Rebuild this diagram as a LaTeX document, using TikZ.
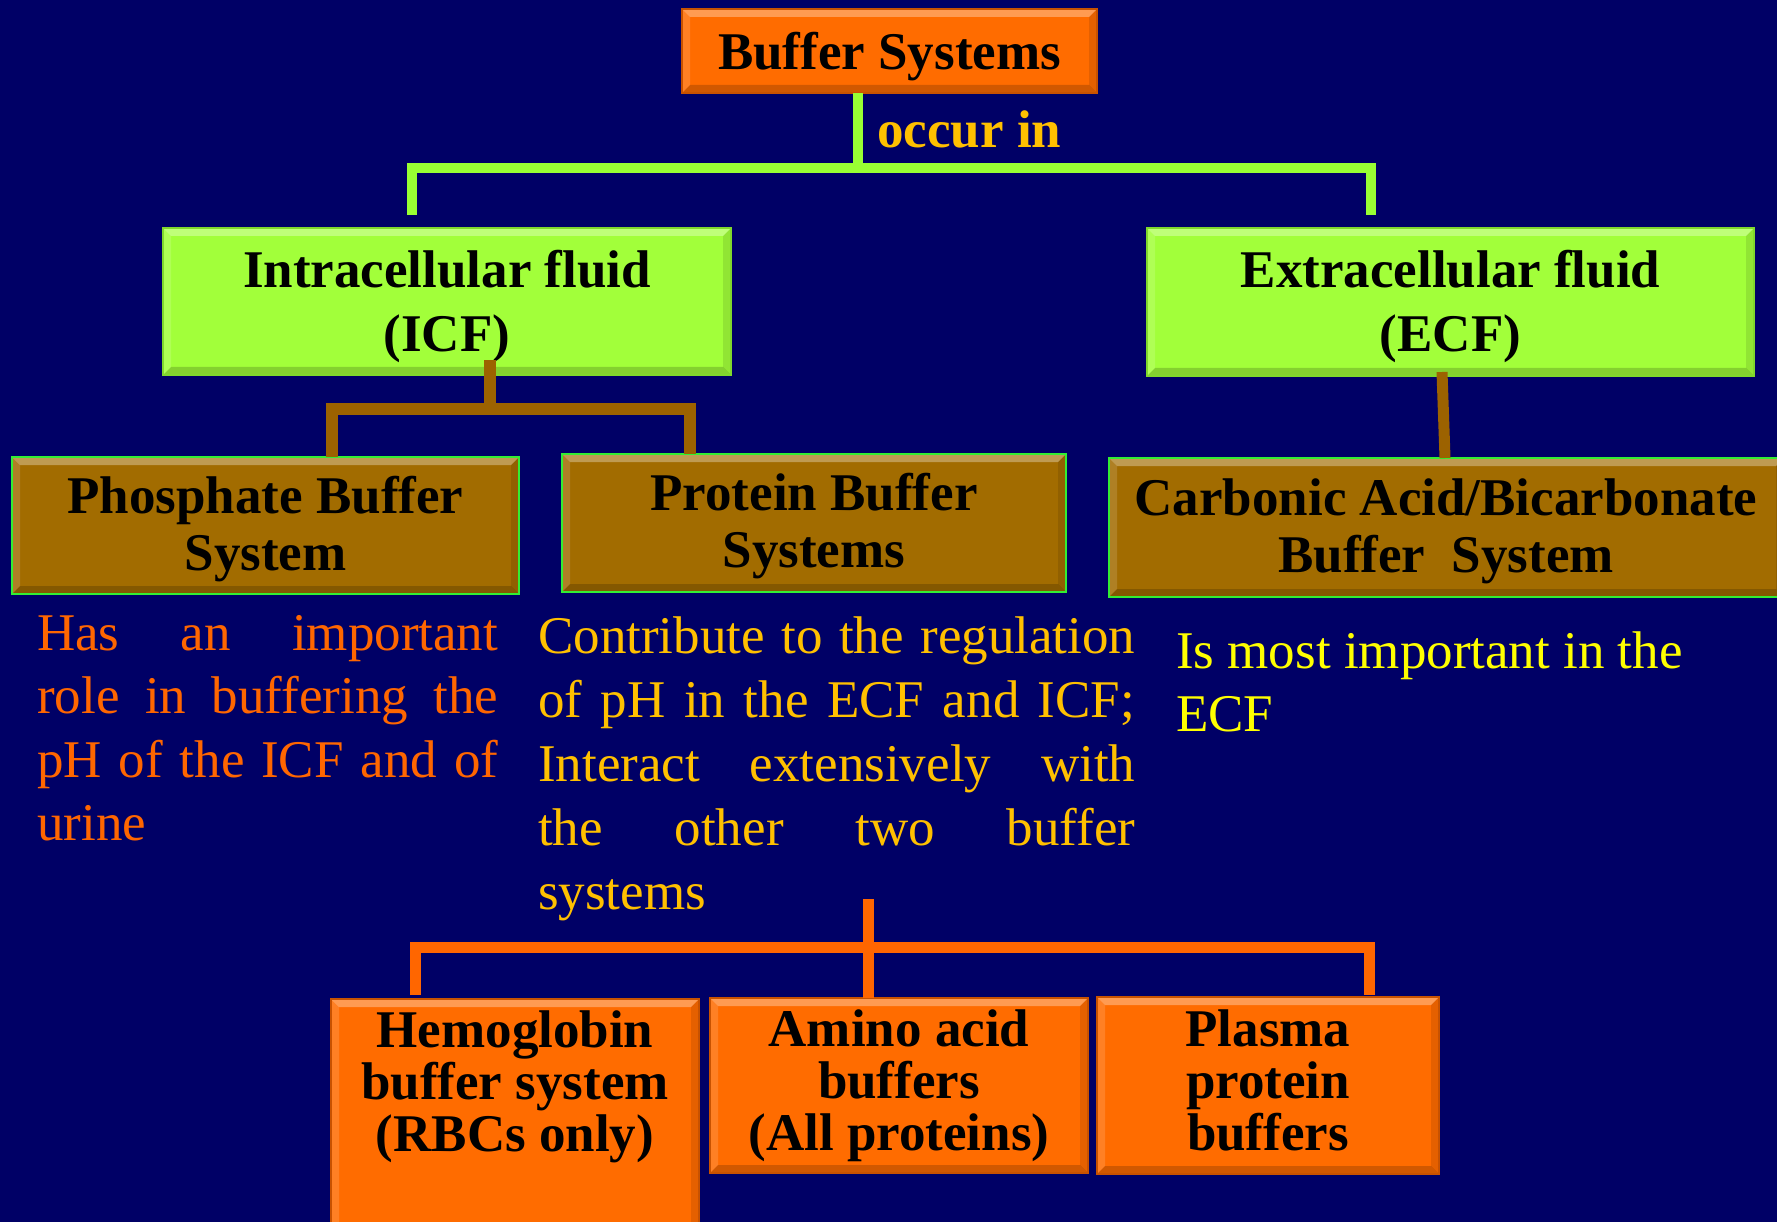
\documentclass[tikz,border=0pt]{standalone}
\usepackage{fontspec}
\setmainfont{Liberation Serif}
\usetikzlibrary{calc}

\definecolor{bgnavy}{HTML}{000066}
\definecolor{boxorange}{HTML}{FF6C00}
\definecolor{boxorangeedge}{HTML}{C85200}
\definecolor{boxgreen}{HTML}{A2FF3A}
\definecolor{boxgreenedge}{HTML}{80D82C}
\definecolor{boxbrown}{HTML}{A26C00}
\definecolor{brownedge}{HTML}{33EE33}
\definecolor{linegreen}{HTML}{99FF33}
\definecolor{linebrown}{HTML}{9C6200}
\definecolor{lineorange}{HTML}{FF6600}
\definecolor{txtorange}{HTML}{FF6600}
\definecolor{txtgold}{HTML}{FFC000}
\definecolor{txtyellow}{HTML}{FFFF00}

% stacked lines, baseline on the first line
\newcommand\boxlines[1]{\begin{tabular}[t]{@{}c@{}}#1\end{tabular}}
\newcommand\leftlines[1]{\begin{tabular}[t]{@{}l@{}}#1\end{tabular}}

\tikzset{
  bevel/.style={path picture={
    \path (path picture bounding box.north west) coordinate (bvNW)
          (path picture bounding box.north east) coordinate (bvNE)
          (path picture bounding box.south west) coordinate (bvSW)
          (path picture bounding box.south east) coordinate (bvSE);
    \fill[white,opacity=.32] (bvNW) -- (bvNE) -- ([shift={(-8pt,-8pt)}]bvNE) -- ([shift={(8pt,-8pt)}]bvNW) -- cycle;
    \fill[white,opacity=.14] (bvNW) -- ([shift={(8pt,-8pt)}]bvNW) -- ([shift={(8pt,8pt)}]bvSW) -- (bvSW) -- cycle;
    \fill[black,opacity=.18] (bvSW) -- ([shift={(8pt,8pt)}]bvSW) -- ([shift={(-8pt,8pt)}]bvSE) -- (bvSE) -- cycle;
    \fill[black,opacity=.10] (bvNE) -- (bvSE) -- ([shift={(-8pt,8pt)}]bvSE) -- ([shift={(-8pt,-8pt)}]bvNE) -- cycle;
  }},
  basebox/.style={rectangle, inner sep=0pt, outer sep=0pt, anchor=north west, bevel},
  obox/.style={basebox, fill=boxorange, draw=boxorangeedge, line width=1.5pt},
  gbox/.style={basebox, fill=boxgreen, draw=boxgreenedge, line width=1.5pt},
  bbox/.style={basebox, fill=boxbrown, draw=brownedge, line width=2.5pt},
  btext/.style={font=\bfseries\fontsize{53}{64}\selectfont, text=black, inner sep=0pt, anchor=base},
  desc/.style={font=\fontsize{53}{64}\selectfont, inner sep=0pt, anchor=base west},
  gline/.style={draw=linegreen, line width=10pt},
  bline/.style={draw=linebrown, line width=12pt},
  oline/.style={draw=lineorange, line width=11pt},
}

\begin{document}
\begin{tikzpicture}[x=1pt,y=-1pt]
\useasboundingbox (0,0) rectangle (1777,1222);
\clip (0,0) rectangle (1777,1222);
\fill[bgnavy] (0,0) rectangle (1777,1222);

% ---- boxes ----
\node[obox, minimum width=415pt, minimum height=84pt]  (top)    at (682,9)    {};
\node[gbox, minimum width=568pt, minimum height=147pt] (icf)    at (163,228)  {};
\node[gbox, minimum width=607pt, minimum height=148pt] (ecf)    at (1147,228) {};
\node[bbox, minimum width=507pt, minimum height=137pt] (phos)   at (12,457)   {};
\node[bbox, minimum width=504pt, minimum height=138pt] (prot)   at (562,454)  {};
\node[bbox, minimum width=675pt, minimum height=139pt] (carb)   at (1109,458) {};
\node[obox, minimum width=368pt, minimum height=260pt] (hemo)   at (331,999)  {};
\node[obox, minimum width=378pt, minimum height=175pt] (amino)  at (710,998)  {};
\node[obox, minimum width=342pt, minimum height=177pt] (plasma) at (1097,997) {};

% ---- box labels ----
\node[btext] (top-t) at (top.center |- 0,70) {Buffer Systems};
\node[btext] (icf-t) at (icf.center |- 0,288) {\boxlines{Intracellular fluid\\(ICF)}};
\node[btext] (ecf-t) at (ecf.center |- 0,288) {\boxlines{Extracellular fluid\\(ECF)}};
\node[btext, font=\bfseries\fontsize{53}{57}\selectfont] (phos-t) at (phos.center |- 0,513) {\boxlines{Phosphate Buffer\\System}};
\node[btext, font=\bfseries\fontsize{53}{57}\selectfont] (prot-t) at (prot.center |- 0,510) {\boxlines{Protein Buffer\\Systems}};
\node[btext, font=\bfseries\fontsize{53}{57}\selectfont] (carb-t) at (1446,515) {\boxlines{Carbonic Acid/Bicarbonate\\Buffer~~System}};
\node[btext, font=\bfseries\fontsize{53}{51}\selectfont] (hemo-t) at (hemo.center |- 0,1047) {\boxlines{Hemoglobin\\buffer system\\(RBCs only)}};
\node[btext, font=\bfseries\fontsize{53}{51}\selectfont] (amino-t) at (amino.center |- 0,1046) {\boxlines{Amino acid\\buffers\\(All proteins)}};
\node[btext, font=\bfseries\fontsize{53}{51}\selectfont] (plasma-t) at (plasma.center |- 0,1046) {\boxlines{Plasma\\protein\\buffers}};

% ---- link label ----
\node[btext, anchor=base west, text=txtgold] (occ) at (877,148) {occur in};

% ---- descriptions ----
\node[desc, text=txtorange, font=\fontsize{53}{63.5}\selectfont] (phos-d) at (37,650) {\leftlines{%
  \makebox[461pt][s]{Has an important}\\
  \makebox[461pt][s]{role in buffering the}\\
  \makebox[461pt][s]{pH of the ICF and of}\\
  urine}};
\node[desc, text=txtgold] (prot-d) at (538,653) {\leftlines{%
  \makebox[597pt][s]{Contribute to the regulation}\\
  \makebox[597pt][s]{of pH in the ECF and ICF;}\\
  \makebox[597pt][s]{Interact extensively with}\\
  \makebox[597pt][s]{the other two buffer}\\
  systems}};
\node[desc, text=txtyellow, font=\fontsize{53}{63}\selectfont] (carb-d) at (1176,668) {\leftlines{%
  Is most important in the\\
  ECF}};

% ---- connectors ----
\coordinate (occJ) at (858,168);
\coordinate (icfDrop) at (412,215);
\coordinate (ecfDrop) at (1371,215);
\draw[gline] (top.south -| occJ) -- (occJ);
\draw[gline] (icfDrop) -- (icfDrop |- occJ) -- (ecfDrop |- occJ) -- (ecfDrop);

\coordinate (icfJ) at (490,409);
\draw[bline] ([yshift=15pt]icf.south -| icfJ) -- (icfJ);
\draw[bline] (phos.north -| 332,0) -- (332,0 |- icfJ) -- (690,0 |- icfJ) -- (prot.north -| 690,0);

\draw[draw=linebrown, line width=11pt] (1442,372) -- (carb.north -| 1445,0);

\coordinate (protJ) at (868,947);
\coordinate (protStem) at (868,899);
\draw[oline] (protStem) -- (amino.north -| protJ);
\draw[oline] ([yshift=4pt]hemo.north -| 415,0) -- (415,0 |- protJ) -- (1369,0 |- protJ) -- ([yshift=2pt]plasma.north -| 1369,0);
\end{tikzpicture}
\end{document}
